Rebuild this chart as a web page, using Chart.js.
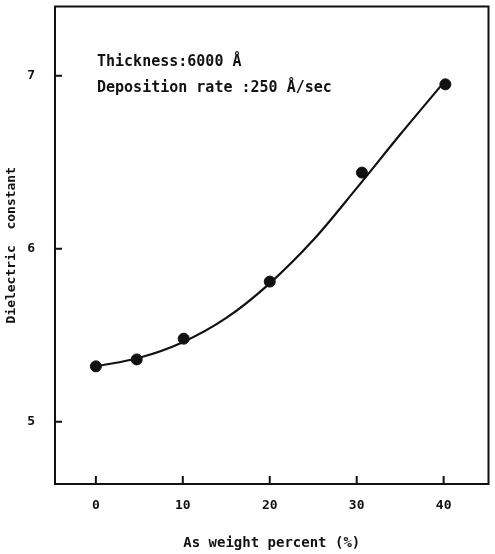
<!DOCTYPE html>
<html>
<head>
<meta charset="utf-8">
<script src="https://cdn.jsdelivr.net/npm/chart.js@4/dist/chart.umd.min.js"></script>
<style>
  body { margin: 0; background: #fff; }
</style>
</head>
<body>
<canvas id="chart" width="495" height="554"></canvas>
<script>
// measured points
const weightPct = [0, 4.7, 10.1, 20, 30.6, 40.2];
const dielectric = [5.32, 5.36, 5.48, 5.81, 6.44, 6.95];

// hand drawn smooth curve
const curveX = [0, 5, 10, 15, 20, 25, 30, 35, 40];
const curveY = [5.32, 5.37, 5.46, 5.60, 5.80, 6.05, 6.35, 6.66, 6.96];

const xTicks = [0, 10, 20, 30, 40];
const yTicks = [5, 6, 7];

const noteLines = ["Thickness:6000 Å", "Deposition rate :250 Å/sec"];

const font = "'DejaVu Sans Mono', 'Liberation Mono', monospace";

// frame + inward ticks + note text
const framePlugin = {
  id: "frame",
  afterDraw(chart) {
    const ctx = chart.ctx;
    const a = chart.chartArea;
    const xs = chart.scales.x, ys = chart.scales.y;
    ctx.save();
    ctx.strokeStyle = "#111";
    ctx.lineWidth = 2;
    ctx.strokeRect(a.left, a.top, a.right - a.left, a.bottom - a.top);
    ctx.beginPath();
    xTicks.forEach(v => {
      const px = xs.getPixelForValue(v);
      ctx.moveTo(px, a.bottom);
      ctx.lineTo(px, a.bottom - 8);
    });
    yTicks.forEach(v => {
      const py = ys.getPixelForValue(v);
      ctx.moveTo(a.left, py);
      ctx.lineTo(a.left + 7, py);
    });
    ctx.stroke();

    ctx.fillStyle = "#111";
    ctx.font = "bold 15px " + font;
    ctx.textBaseline = "middle";
    ctx.fillText(noteLines[0], a.left + 42, a.top + 56);
    ctx.fillText(noteLines[1], a.left + 42, a.top + 82);
    ctx.restore();
  }
};

// scales reserve label padding at their ends; drop it so the area fills the box
function noEndPadding(s) {
  s.paddingTop = 0;
  s.paddingBottom = 0;
  s.paddingLeft = 0;
  s.paddingRight = 0;
}

new Chart(document.getElementById("chart"), {
  type: "scatter",
  data: {
    datasets: [
      {
        label: "measured",
        data: weightPct.map((x, i) => ({ x: x, y: dielectric[i] })),
        backgroundColor: "#111",
        borderColor: "#111",
        pointRadius: 5.5,
        showLine: false
      },
      {
        label: "fit",
        data: curveX.map((x, i) => ({ x: x, y: curveY[i] })),
        showLine: true,
        borderColor: "#111",
        borderWidth: 2.2,
        pointRadius: 0,
        cubicInterpolationMode: "monotone"
      }
    ]
  },
  options: {
    responsive: false,
    animation: false,
    layout: { padding: { top: 6, right: 5, left: 0, bottom: 0 } },
    plugins: {
      legend: { display: false },
      tooltip: { enabled: false }
    },
    scales: {
      x: {
        type: "linear",
        min: -4.7,
        max: 45.16,
        afterBuildTicks: s => { s.ticks = xTicks.map(v => ({ value: v })); },
        afterFit: s => { s.height = 70; noEndPadding(s); },
        grid: { display: false, drawTicks: false },
        border: { display: false },
        ticks: { color: "#111", padding: 14, font: { family: font, size: 13, weight: "bold" } },
        title: {
          display: true,
          text: "As weight percent (%)",
          color: "#111",
          padding: { top: 0, bottom: 2 },
          font: { family: font, size: 14, weight: "bold" }
        }
      },
      y: {
        min: 4.64,
        max: 7.40,
        afterBuildTicks: s => { s.ticks = yTicks.map(v => ({ value: v })); },
        afterFit: s => { s.width = 55; noEndPadding(s); },
        grid: { display: false, drawTicks: false },
        border: { display: false },
        ticks: { color: "#111", padding: 20, font: { family: font, size: 13, weight: "bold" } },
        title: {
          display: true,
          text: "Dielectric  constant",
          color: "#111",
          padding: { top: 4, bottom: 0 },
          font: { family: font, size: 13, weight: "bold" }
        }
      }
    }
  },
  plugins: [framePlugin]
});
</script>
</body>
</html>
